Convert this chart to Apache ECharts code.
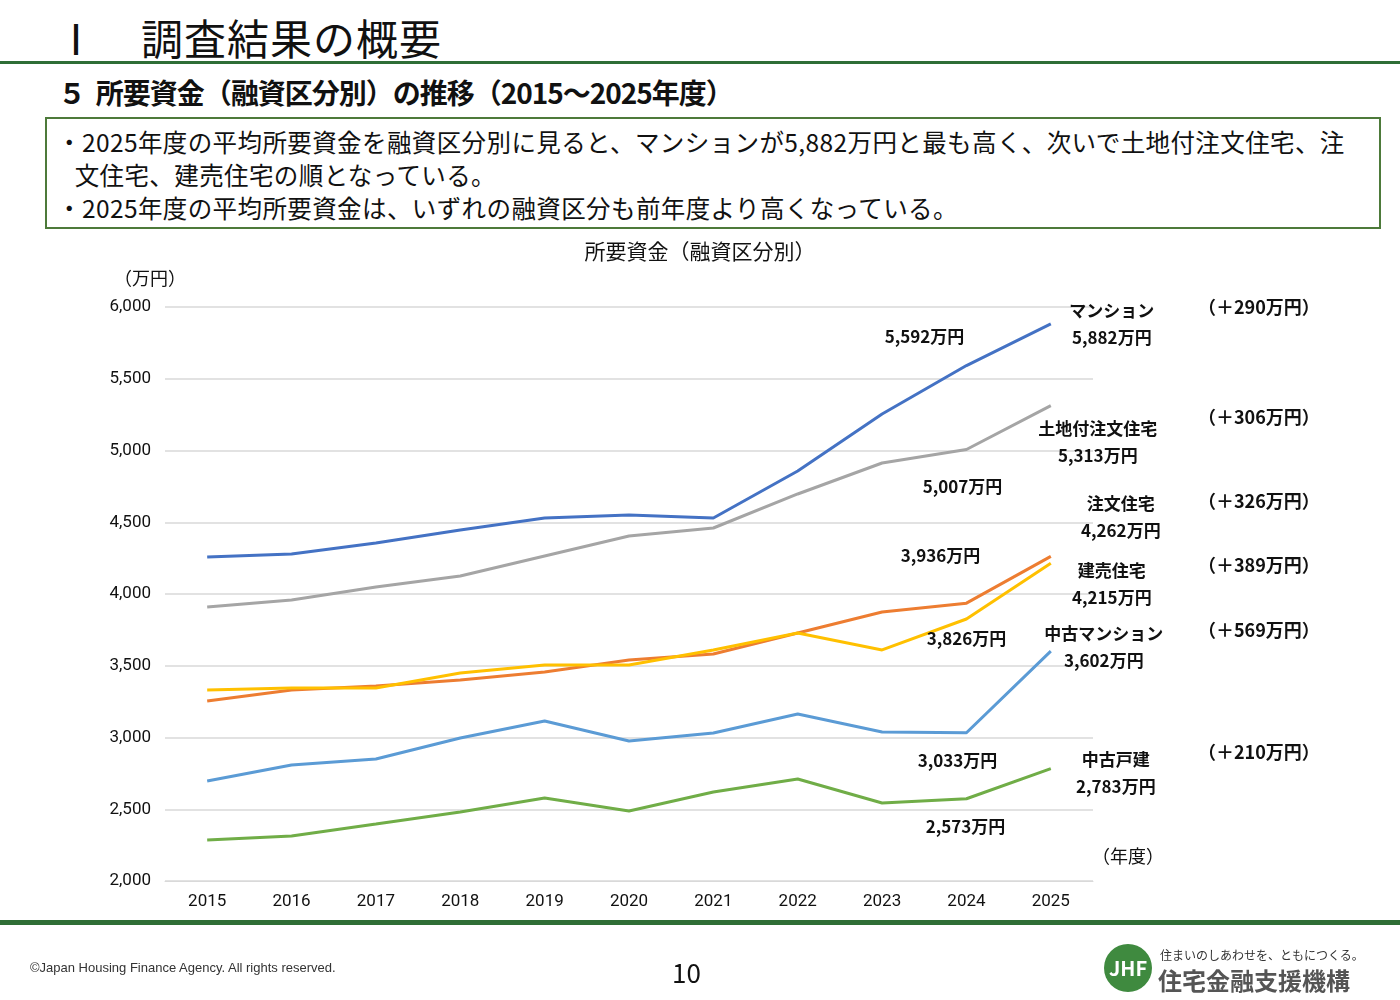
<!DOCTYPE html>
<html><head><meta charset="utf-8">
<script src="https://cdn.jsdelivr.net/npm/echarts@6/dist/echarts.min.js"></script>
<style>
body{margin:0;width:1400px;height:1000px;position:relative;background:#fff;font-family:"Noto Sans CJK JP",sans-serif;overflow:hidden}
.abs{position:absolute}
</style></head><body>
<div class="abs" style="left:55px;top:6px;font-size:42px;color:#111;letter-spacing:1px">Ⅰ　調査結果の概要</div>
<div class="abs" style="left:0;top:61px;width:1400px;height:3px;background:#2f6e36"></div>
<div class="abs" style="left:58px;top:72px;font-size:28px;font-weight:bold;color:#111;letter-spacing:-1px">５&nbsp;&nbsp;所要資金（融資区分別）の推移（2015～2025年度）</div>
<div class="abs" style="left:45px;top:117px;width:1336px;height:112px;border:2px solid #4d7a3a;box-sizing:border-box;font-size:24.5px;line-height:33px;color:#111;padding:6px 0 0 10px;letter-spacing:0.4px;white-space:nowrap">
・2025年度の平均所要資金を融資区分別に見ると、マンションが5,882万円と最も高く、次いで土地付注文住宅、注<br>&nbsp;&nbsp;&nbsp;文住宅、建売住宅の順となっている。<br>・2025年度の平均所要資金は、いずれの融資区分も前年度より高くなっている。</div>
<div id="container" class="abs" style="left:0;top:0;width:1400px;height:1000px"></div>
<div class="abs" style="left:0;top:920px;width:1400px;height:5px;background:#2f6e36"></div>
<div class="abs" style="left:30px;top:960px;font-size:13px;color:#333;font-family:Arial,'Liberation Sans'">©Japan Housing Finance Agency. All rights reserved.</div>
<div class="abs" style="left:672px;top:953px;font-size:26px;color:#111">10</div>
<div class="abs" style="left:1104px;top:944px;width:48px;height:48px;border-radius:50%;background:#3f8a3f;color:#fff;font-size:20px;font-weight:bold;text-align:center;line-height:48px">JHF</div>
<div class="abs" style="left:1160px;top:946px;font-size:12px;color:#333">住まいのしあわせを、ともにつくる。</div>
<div class="abs" style="left:1158px;top:962px;font-size:24px;font-weight:bold;color:#555">住宅金融支援機構</div>
<script>
var dom = document.getElementById("container");
var myChart = echarts.init(dom);
var years = ['2015','2016','2017','2018','2019','2020','2021','2022','2023','2024','2025'];
var data = {
    'マンション':   [4258,4279,4355,4446,4530,4550,4530,4857,5254,5592,5882],
    '土地付注文住宅': [3909,3958,4049,4125,4265,4404,4460,4697,4913,5007,5313],
    '注文住宅':     [3254,3331,3359,3401,3456,3540,3582,3728,3875,3936,4262],
    '建売住宅':     [3331,3345,3345,3449,3505,3505,3610,3728,3610,3826,4215],
    '中古マンション': [2697,2808,2850,2997,3115,2976,3031,3164,3038,3033,3602],
    '中古戸建':     [2286,2314,2397,2481,2578,2488,2620,2711,2544,2573,2783]
};
var colors = {'マンション':'#4472C4','土地付注文住宅':'#A5A5A5','注文住宅':'#ED7D31','建売住宅':'#FFC000','中古マンション':'#5B9BD5','中古戸建':'#70AD47'};
// end label offsets, 2024 label offsets
var endOff = {'マンション':[53,0],'土地付注文住宅':[39,36],'注文住宅':[62,-39],'建売住宅':[53,21],'中古マンション':[45,-4],'中古戸建':[57,4]};
var midOff = {'マンション':[-42,-29],'土地付注文住宅':[-4,37],'注文住宅':[-26,-48],'建売住宅':[0,20],'中古マンション':[-9,28],'中古戸建':[-1,28]};
var fmt = function (v) { return v.toLocaleString('en-US') + '万円'; };
var labFont = {fontFamily:'Noto Sans CJK JP',fontSize:17,fontWeight:'bold',color:'#111'};

var series = Object.keys(data).map(function (name) {
    var vals = data[name];
    return {
        name: name,
        type: 'line',
        symbol: 'circle',
        symbolSize: 0,
        showAllSymbol: true,
        lineStyle: {width: 3, color: colors[name]},
        itemStyle: {color: colors[name]},
        label: {show: false},
        data: vals.map(function (v, i) {
            if (i === 9) {
                return {value: v, label: Object.assign({show: true, position: 'inside', offset: midOff[name], formatter: fmt(v)}, labFont)};
            }
            return v;
        }),
        endLabel: Object.assign({show: true, align: 'center', verticalAlign: 'middle', position: 'inside', offset: endOff[name],
            lineHeight: 27,
            formatter: function (p) { return p.seriesName + '\n' + fmt(p.value); }}, labFont)
    };
});

var diffs = [['（＋290万円）',310],['（＋306万円）',420],['（＋326万円）',504],['（＋389万円）',568],['（＋569万円）',633],['（＋210万円）',755]];
var graphic = diffs.map(function (d) {
    return {type: 'text', left: 1198, top: d[1] - 12, style: {text: d[0], fill: '#111', font: 'bold 18px "Noto Sans CJK JP"'}};
});
graphic.push({type: 'text', left: 1092, top: 847, style: {text: '（年度）', font: '18px "Noto Sans CJK JP"', fill: '#111'}});

var option = {
    animation: false,
    title: {text: '所要資金（融資区分別）', left: 'center', top: 236,
        textStyle: {fontFamily: 'Noto Sans CJK JP', fontSize: 21, fontWeight: 'normal', color: '#111'}},
    grid: {left: 165, right: 307, top: 307, bottom: 119},
    graphic: graphic,
    xAxis: {
        type: 'category', data: years, boundaryGap: true,
        axisLine: {lineStyle: {color: '#d9d9d9'}}, axisTick: {show: false},
        axisLabel: {fontFamily: 'Roboto', fontSize: 17, color: '#111', margin: 12}
    },
    yAxis: {
        type: 'value', min: 2000, max: 6000, interval: 500,
        name: '（万円）', nameLocation: 'end', nameGap: 20,
        nameTextStyle: {fontFamily: 'Noto Sans CJK JP', fontSize: 18, color: '#111', align: 'center', padding: [0, 0, 0, -30]},
        axisLine: {show: false}, axisTick: {show: false},
        splitLine: {lineStyle: {color: '#d9d9d9', width: 1.5}},
        axisLabel: {fontFamily: 'Roboto', fontSize: 17, color: '#111', margin: 14,
            formatter: function (v) { return v.toLocaleString('en-US'); }}
    },
    series: series
};
myChart.setOption(option, true);
</script>
</body></html>
